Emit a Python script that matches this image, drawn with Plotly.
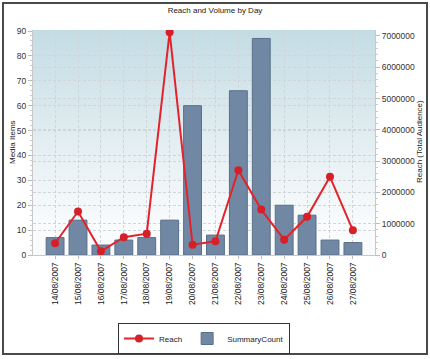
import plotly.graph_objects as go

# ---- data ----
dates = ["14/08/2007", "15/08/2007", "16/08/2007", "17/08/2007", "18/08/2007",
         "19/08/2007", "20/08/2007", "21/08/2007", "22/08/2007", "23/08/2007",
         "24/08/2007", "25/08/2007", "26/08/2007", "27/08/2007"]
summary_count = [7, 14, 4, 6, 7, 14, 60, 8, 66, 87, 20, 16, 6, 5]
reach = [375000, 1390000, 120000, 570000, 680000, 7120000, 330000,
         440000, 2710000, 1450000, 490000, 1220000, 2500000, 790000]
left_ticks = list(range(0, 91, 10))
right_ticks = list(range(0, 7000001, 1000000))

W, H = 430, 359
L, R, T, B = 33, 55, 30, 104
pw, ph = W - L - R, H - T - B


def px_x(x):
    return (x - L) / pw


def px_y(y):
    return (H - B - y) / ph


FONT = "Liberation Sans, Arial, sans-serif"
GRID = "#cfd6da"
GDASH = "3px,2px"
TICKSZ = 8.5
TXTSZ = 8

fig = go.Figure()
fig.add_trace(go.Scatter(
    x=dates, y=reach, name="Reach", yaxis="y2", mode="lines+markers",
    line=dict(color="#e3232c", width=2),
    marker=dict(color="#d61f29", size=8),
))
fig.add_trace(go.Bar(
    x=dates, y=summary_count, name="SummaryCount", yaxis="y",
    marker=dict(color="#7088a4", line=dict(color="#5b6f88", width=1)),
))

# gradient background of the plot area
shapes = []
N = 45
top = (197, 220, 228)
bot = (249, 251, 252)
for i in range(N):
    f = i / (N - 1)
    f2 = min(1.0, f * 1.15)
    c = tuple(int(round(top[k] + (bot[k] - top[k]) * f2)) for k in range(3))
    shapes.append(dict(type="rect", xref="paper", yref="paper",
                       x0=0, x1=1, y0=1 - (i + 1) / N, y1=1 - i / N,
                       fillcolor="rgb(%d,%d,%d)" % c, line=dict(width=0),
                       layer="below"))
# outer frame
shapes.append(dict(type="rect", xref="paper", yref="paper",
                   x0=px_x(3), x1=px_x(427), y0=px_y(354), y1=px_y(3),
                   line=dict(color="#4a4a4a", width=2), fillcolor="rgba(0,0,0,0)",
                   layer="above"))

annotations = [
    dict(text="Media Items", xref="paper", yref="paper", x=px_x(12), y=px_y(142),
         xanchor="center", yanchor="middle", textangle=-90, showarrow=False,
         font=dict(size=TXTSZ, color="#222222")),
    dict(text="Reach (Total Audience)", xref="paper", yref="paper", x=px_x(419), y=px_y(142),
         xanchor="center", yanchor="middle", textangle=-90, showarrow=False,
         font=dict(size=TXTSZ, color="#222222")),
]

fig.update_layout(
    width=W, height=H,
    margin=dict(l=L, r=R, t=T, b=B, autoexpand=False),
    paper_bgcolor="white", plot_bgcolor="rgba(0,0,0,0)",
    font=dict(family=FONT, size=TICKSZ, color="#333333"),
    title=dict(text="Reach and Volume by Day", x=0.5, xanchor="center",
               y=1 - 10 / H, yanchor="middle", yref="container",
               font=dict(size=TXTSZ, color="#222222")),
    bargap=0.22,
    showlegend=True,
    legend=dict(orientation="h", x=px_x(204), xanchor="center", y=px_y(323), yanchor="top",
                bordercolor="#333333", borderwidth=1, bgcolor="white",
                font=dict(size=TXTSZ, color="#222222"), traceorder="normal",
                itemwidth=30),
    shapes=shapes,
    annotations=annotations,
    xaxis=dict(type="category", tickangle=-90, showgrid=True, gridcolor=GRID,
               griddash=GDASH, gridwidth=1, ticks="outside", ticklen=3,
               tickcolor="#bbbbbb", showline=True, linecolor="#c8c8c8",
               tickfont=dict(size=TICKSZ, color="#222222"), zeroline=False, automargin=False),
    yaxis=dict(range=[0, 90.4], tickvals=left_ticks, showgrid=True, gridcolor=GRID,
               griddash=GDASH, ticks="outside", ticklen=4, tickcolor="#bbbbbb",
               showline=True, linecolor="#c8c8c8", zeroline=False, automargin=False,
               minor=dict(ticks="outside", ticklen=2, tickcolor="#cccccc", dtick=2, showgrid=False),
               tickfont=dict(size=TICKSZ, color="#333333")),
    yaxis2=dict(range=[0, 7190000], tickvals=right_ticks, overlaying="y", side="right",
                showgrid=True, gridcolor=GRID, griddash=GDASH, automargin=False,
                ticks="outside", ticklen=4, tickcolor="#bbbbbb", showline=True,
                linecolor="#c8c8c8", zeroline=False, tickformat="d",
                minor=dict(ticks="outside", ticklen=2, tickcolor="#cccccc", dtick=200000, showgrid=False),
                tickfont=dict(size=TICKSZ, color="#333333")),
)

fig.write_html("out.html", config={"displayModeBar": False},
               post_script="document.body.style.margin='0';document.body.style.overflow='hidden';")
